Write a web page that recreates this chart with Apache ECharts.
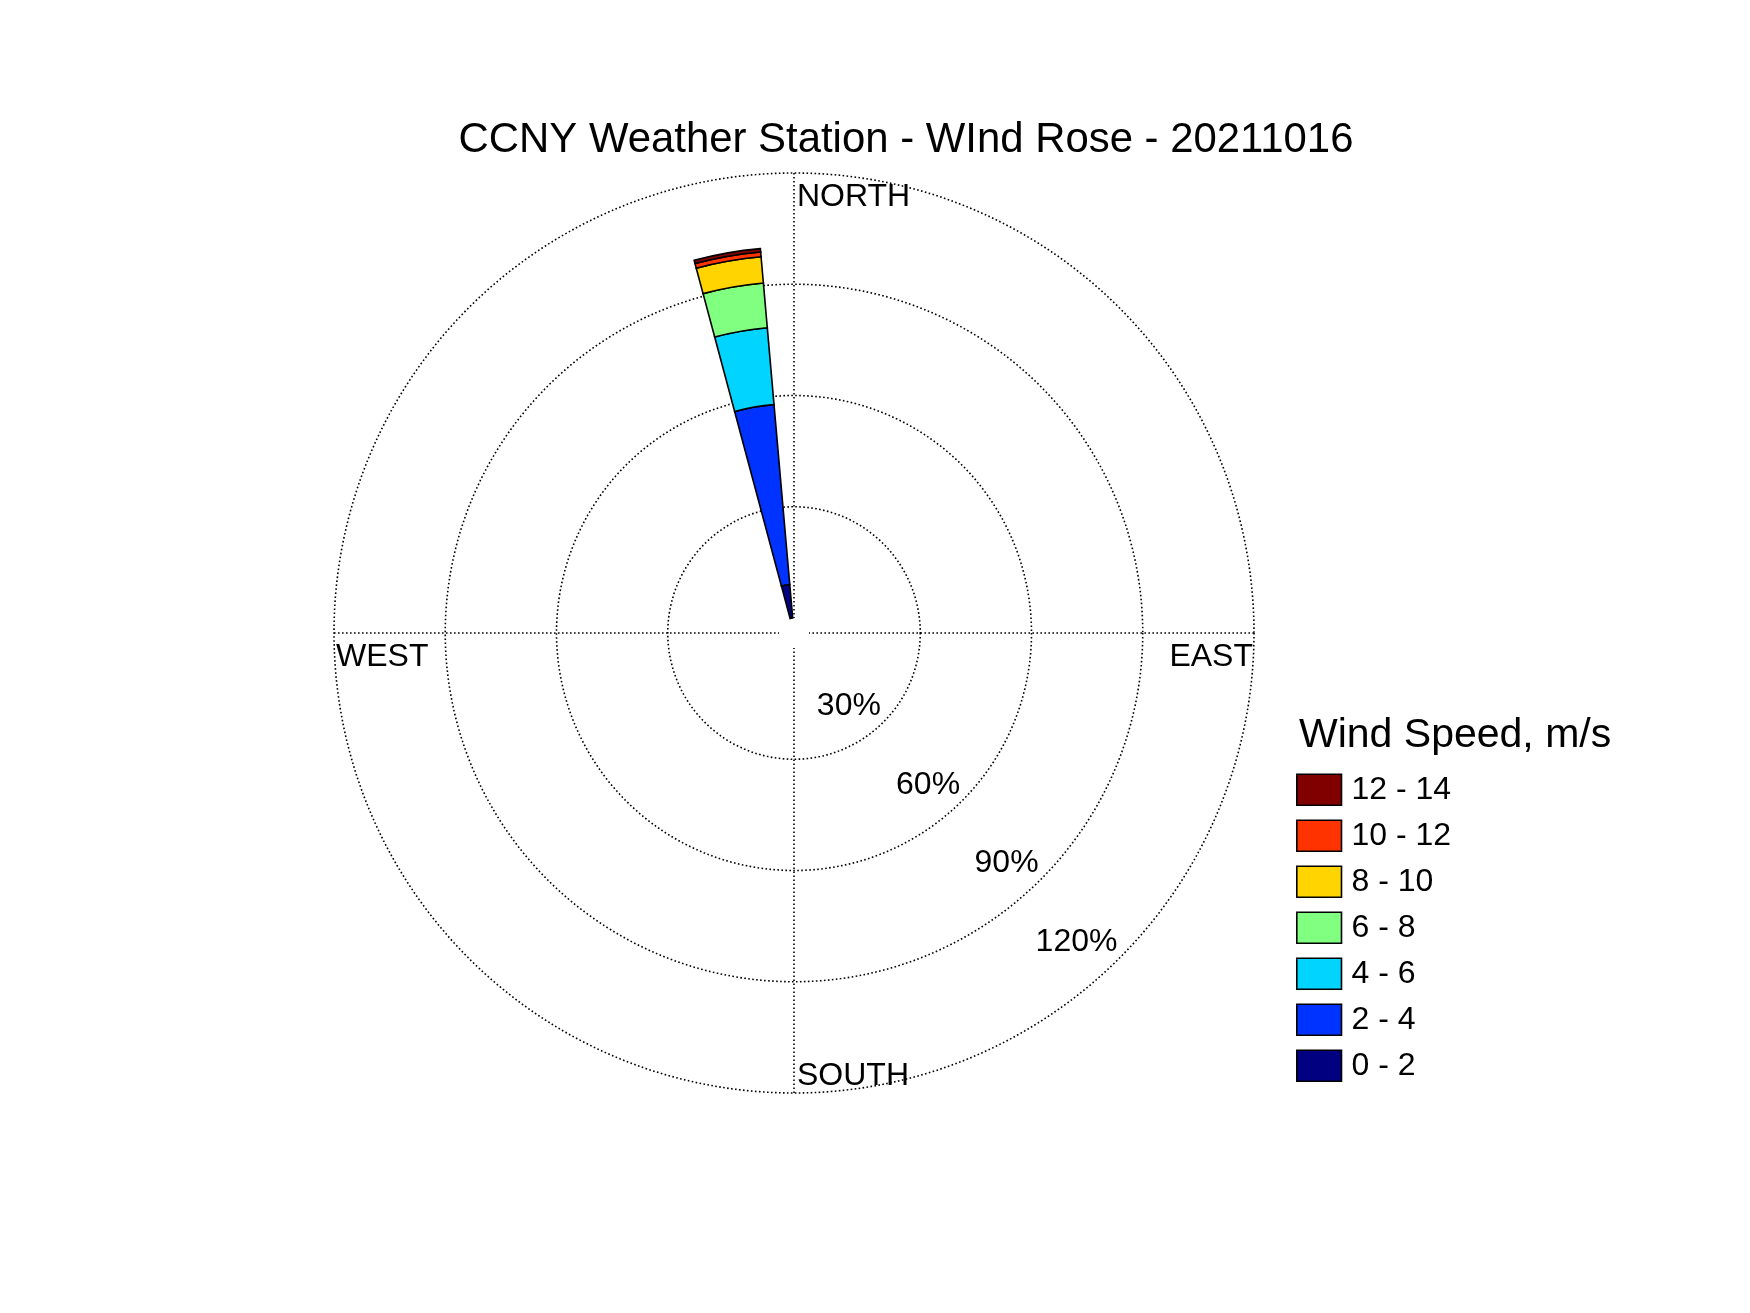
<!DOCTYPE html>
<html>
<head>
<meta charset="utf-8">
<script src="https://cdn.jsdelivr.net/npm/echarts@6/dist/echarts.min.js"></script>
<style>html,body{margin:0;padding:0;background:#fff}#c{width:1750px;height:1313px}</style>
</head>
<body>
<div id="c"></div>
<script>
// ---- data ----
const titleText = 'CCNY Weather Station - WInd Rose - 20211016';
const legendTitle = 'Wind Speed, m/s';
const directions = ['0','10','20','30','40','50','60','70','80','90','100','110','120','130','140','150','160','170',
                    '180','190','200','210','220','230','240','250','260','270','280','290','300','310','320','330','340','350'];
const speedBins = ['0 - 2','2 - 4','4 - 6','6 - 8','8 - 10','10 - 12','12 - 14'];
// percent frequency per direction (36 bins of 10 deg, starting at North)
const spd0_2   = [0,0,0,0,0,0,0,0,0,0,0,0,0,0,0,0,0,0,0,0,0,0,0,0,0,0,0,0,0,0,0,0,0,0,0,9.1];
const spd2_4   = [0,0,0,0,0,0,0,0,0,0,0,0,0,0,0,0,0,0,0,0,0,0,0,0,0,0,0,0,0,0,0,0,0,0,0,48.7];
const spd4_6   = [0,0,0,0,0,0,0,0,0,0,0,0,0,0,0,0,0,0,0,0,0,0,0,0,0,0,0,0,0,0,0,0,0,0,0,20.8];
const spd6_8   = [0,0,0,0,0,0,0,0,0,0,0,0,0,0,0,0,0,0,0,0,0,0,0,0,0,0,0,0,0,0,0,0,0,0,0,12.1];
const spd8_10  = [0,0,0,0,0,0,0,0,0,0,0,0,0,0,0,0,0,0,0,0,0,0,0,0,0,0,0,0,0,0,0,0,0,0,0,7.1];
const spd10_12 = [0,0,0,0,0,0,0,0,0,0,0,0,0,0,0,0,0,0,0,0,0,0,0,0,0,0,0,0,0,0,0,0,0,0,0,1.3];
const spd12_14 = [0,0,0,0,0,0,0,0,0,0,0,0,0,0,0,0,0,0,0,0,0,0,0,0,0,0,0,0,0,0,0,0,0,0,0,0.9];
const speedValues = [spd0_2, spd2_4, spd4_6, spd6_8, spd8_10, spd10_12, spd12_14];
const speedColors = ['#000080','#0033ff','#00d4ff','#80ff80','#ffd400','#ff3300','#800000'];
const compassNames = ['NORTH','EAST','SOUTH','WEST'];
const compassAngles = [0, 90, 180, 270];
const ringLabels = ['30%','60%','90%','120%'];

// ---- layout / style ----
const FONT = '"Liberation Sans", Arial, Helvetica, sans-serif';
const CENTER = [794, 633];
const RADII = [15, 460];
const dot = {color:'#000', width:1.6, type:[1.6, 2.4]};
const compassLabelStyle = [
  {align:'left',  verticalAlign:'middle', offset:[3, 24.5]},
  {align:'right', verticalAlign:'middle', offset:[-1, 24]},
  {align:'left',  verticalAlign:'middle', offset:[3, -16.5]},
  {align:'left',  verticalAlign:'middle', offset:[2, 24]}
];
const ringLabelPos = [[20, 142], [50.2, 138.2], [80, 137], [108.3, 137.3]];

const series = [];
speedBins.forEach((name, i) => {
  series.push({
    type:'bar', name, coordinateSystem:'polar', polarIndex:1, stack:'wind',
    data: speedValues[i].map(v => v === 0 ? '-' : v),
    barCategoryGap:'0%', barGap:'0%', silent:true,
    itemStyle:{color:speedColors[i], borderColor:'#000', borderWidth:1.6}
  });
});
series.push({
  type:'scatter', coordinateSystem:'polar', polarIndex:0, silent:true, z:10,
  symbolSize:1, itemStyle:{color:'rgba(0,0,0,0)'},
  data: compassNames.map((n, i) => ({
    value:[120, compassAngles[i]], name:n,
    label:Object.assign({show:true, position:'inside', formatter:n, fontSize:32, fontFamily:FONT, color:'#000000', opacity:1, textBorderWidth:0}, compassLabelStyle[i])
  }))
});
series.push({
  type:'scatter', coordinateSystem:'polar', polarIndex:0, silent:true, z:10,
  symbolSize:1, itemStyle:{color:'rgba(0,0,0,0)'},
  data: ringLabels.map((t, i) => ({
    value:ringLabelPos[i], name:t,
    label:{show:true, position:'inside', formatter:t, fontSize:32, fontFamily:FONT, color:'#000000', opacity:1, textBorderWidth:0,
           align:'center', verticalAlign:'middle', offset:[0, 2.5]}
  }))
});

const chart = echarts.init(document.getElementById('c'), null, {renderer:'canvas', width:1750, height:1313});
chart.setOption({
  animation:false,
  backgroundColor:'#ffffff',
  polar:[{center:CENTER, radius:RADII},{center:CENTER, radius:RADII}],
  angleAxis:[
    {polarIndex:0, type:'value', min:0, max:360, interval:90, startAngle:90, clockwise:true,
     axisLine:{show:false}, axisTick:{show:false}, axisLabel:{show:false}, splitLine:{show:true, lineStyle:dot}},
    {polarIndex:1, type:'category', data:directions, startAngle:95, clockwise:true, boundaryGap:true,
     axisLine:{show:false}, axisTick:{show:false}, axisLabel:{show:false}, splitLine:{show:false}}
  ],
  radiusAxis:[
    {polarIndex:0, type:'value', min:0, max:120, interval:30,
     axisLine:{show:false}, axisTick:{show:false}, axisLabel:{show:false},
     splitLine:{show:true, lineStyle:Object.assign({}, dot, {color:['rgba(0,0,0,0)','#000','#000','#000','#000']})}},
    {polarIndex:1, type:'value', min:0, max:120,
     axisLine:{show:false}, axisTick:{show:false}, axisLabel:{show:false}, splitLine:{show:false}}
  ],
  legend:{
    data:speedBins.slice().reverse(), orient:'vertical', left:1296, top:773.5, padding:0,
    itemWidth:44.7, itemHeight:31, itemGap:13.4, icon:'rect', selectedMode:false,
    itemStyle:{borderColor:'#000', borderWidth:1.6},
    textStyle:{fontSize:32, fontFamily:FONT, color:'#000', lineHeight:31, padding:[0,0,0,5]}
  },
  graphic:[
    {type:'text', x:906, y:140.5, style:{text:titleText, fontSize:41.9, fontFamily:FONT, fill:'#000', align:'center', verticalAlign:'middle'}},
    {type:'text', x:1299, y:735.5, style:{text:legendTitle, fontSize:41, fontFamily:FONT, fill:'#000', align:'left', verticalAlign:'middle'}}
  ],
  series
});
</script>
</body>
</html>
